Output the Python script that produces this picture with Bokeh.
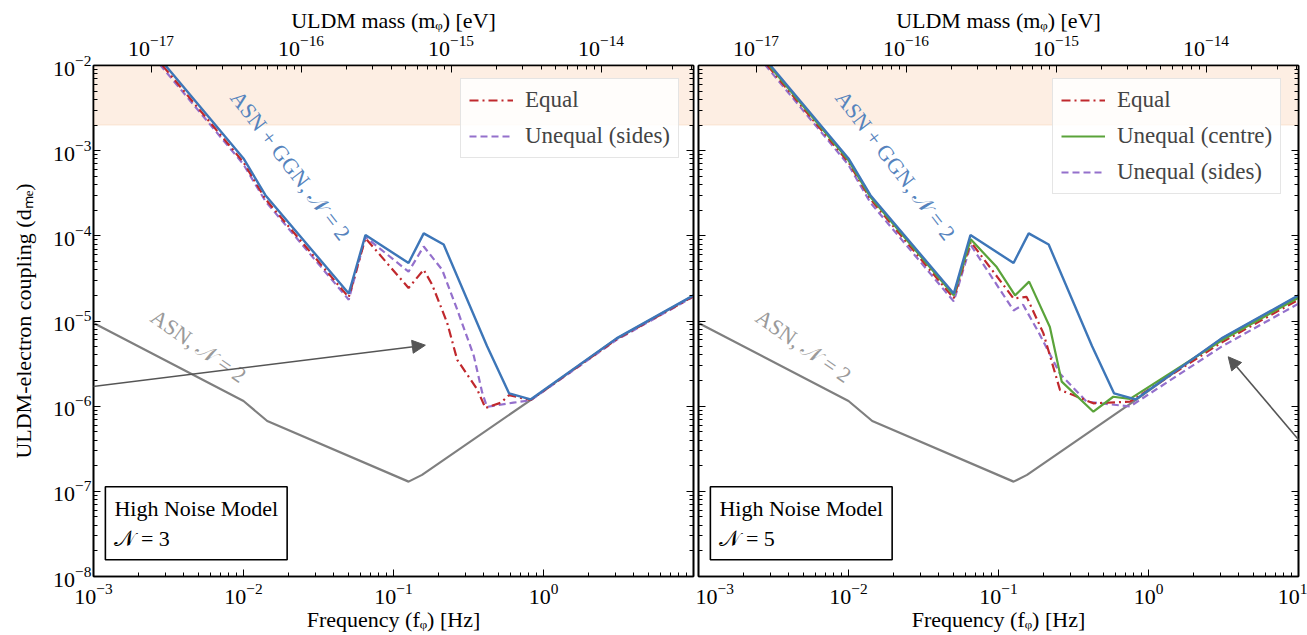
import math
from bokeh.plotting import figure
from bokeh.models import (LogAxis, Range1d, LogScale, FixedTicker, Label, Legend, LegendItem,
                          BoxAnnotation, Arrow, NormalHead, CustomJSTickFormatter)
from bokeh.layouts import row
from bokeh.embed import file_html
from bokeh.resources import INLINE

# ---------------- data ----------------
H_EV_S = 4.135667696e-15  # eV per Hz (m = h f)

freq_ticks = [1e-3, 1e-2, 1e-1, 1.0, 10.0]
coupling_ticks = [1e-8, 1e-7, 1e-6, 1e-5, 1e-4, 1e-3, 1e-2]
mass_ticks = [1e-17, 1e-16, 1e-15, 1e-14]

band_low = 2.0e-3
band_high = 1.0e-2

# ASN + GGN, N = 2 (reference, both panels)
ref_f = [0.0020, 0.0031, 0.0100, 0.0140, 0.0503, 0.0650, 0.126, 0.159, 0.216, 0.42, 0.59, 0.82, 3.07, 10.0]
ref_d = [2.4e-2, 9.5e-3, 8.1e-4, 3.0e-4, 2.1e-5, 1.02e-4, 4.8e-5, 1.07e-4, 7.9e-5, 5.1e-6, 1.41e-6, 1.2e-6, 6.25e-6, 2.0e-5]

# ASN, N = 2
asn_f = [0.001, 0.01, 0.0144, 0.126, 0.155, 0.82, 3.07, 10.0]
asn_d = [9.5e-6, 1.15e-6, 6.7e-7, 1.3e-7, 1.56e-7, 1.18e-6, 6.2e-6, 1.98e-5]

# N = 3 panel
n3_equal_f = [0.002, 0.0031, 0.01, 0.014, 0.0503, 0.065, 0.126, 0.159, 0.181, 0.228, 0.266, 0.361, 0.41, 0.52, 0.59, 0.82, 3.07, 10.0]
n3_equal_d = [2.2e-2, 8.6e-3, 7.3e-4, 2.7e-4, 1.9e-5, 9.4e-5, 2.44e-5, 4.0e-5, 2.67e-5, 9.5e-6, 3.5e-6, 1.58e-6, 9.5e-7, 1.1e-6, 1.35e-6, 1.18e-6, 6.1e-6, 1.95e-5]
n3_sides_f = [0.002, 0.0031, 0.01, 0.014, 0.0503, 0.065, 0.126, 0.159, 0.211, 0.266, 0.343, 0.39, 0.42, 0.63, 0.82, 3.07, 10.0]
n3_sides_d = [2.05e-2, 8.1e-3, 6.9e-4, 2.55e-4, 1.78e-5, 9.7e-5, 3.8e-5, 7.5e-5, 4.0e-5, 1.36e-5, 3.9e-6, 1.45e-6, 9.8e-7, 1.1e-6, 1.17e-6, 6.0e-6, 1.93e-5]

# N = 5 panel
n5_equal_f = [0.002, 0.0031, 0.01, 0.014, 0.0503, 0.0653, 0.126, 0.154, 0.199, 0.257, 0.315, 0.429, 0.753, 3.07, 10.0]
n5_equal_d = [2.2e-2, 8.6e-3, 7.3e-4, 2.7e-4, 1.85e-5, 8.5e-5, 1.84e-5, 1.92e-5, 7.2e-6, 1.55e-6, 1.35e-6, 1.08e-6, 1.13e-6, 5.6e-6, 1.78e-5]
n5_centre_f = [0.002, 0.0031, 0.01, 0.014, 0.0503, 0.0653, 0.0973, 0.129, 0.160, 0.220, 0.264, 0.429, 0.582, 0.753, 3.07, 10.0]
n5_centre_d = [2.3e-2, 9.1e-3, 7.7e-4, 2.85e-4, 2.0e-5, 9.1e-5, 4.3e-5, 2.0e-5, 2.9e-5, 8.5e-6, 1.94e-6, 8.6e-7, 1.29e-6, 1.22e-6, 5.9e-6, 1.88e-5]
n5_sides_f = [0.002, 0.0031, 0.01, 0.014, 0.0503, 0.0653, 0.126, 0.146, 0.184, 0.257, 0.387, 0.753, 3.07, 10.0]
n5_sides_d = [2.05e-2, 8.1e-3, 6.8e-4, 2.45e-4, 1.7e-5, 7.8e-5, 1.33e-5, 1.55e-5, 7.5e-6, 2.4e-6, 1.13e-6, 9.9e-7, 5.0e-6, 1.6e-5]

# ---------------- style ----------------
FONT = "Liberation Serif"
C_BLUE = "#3d76b8"
C_RED = "#c0282d"
C_PURPLE = "#9470cc"
C_GREEN = "#5aa33a"
C_GRAY = "#7f7f7f"


def minor_for(ticks):
    out = []
    for t in ticks[:-1]:
        out += [t * k for k in range(2, 10)]
    return out


def style_axis(ax, labels):
    ax.major_tick_in = 7
    ax.major_tick_out = 0
    ax.minor_tick_in = 4
    ax.minor_tick_out = 0
    ax.axis_line_width = 1.6
    ax.axis_line_color = "black"
    ax.major_tick_line_color = "black"
    ax.minor_tick_line_color = "black"
    ax.major_label_text_font = FONT
    ax.major_label_text_color = "black"
    ax.major_label_text_font_size = "22px"
    ax.axis_label_text_font = FONT
    ax.axis_label_text_font_style = "normal"
    ax.axis_label_text_font_size = "22px"
    ax.axis_label_text_color = "black"
    if labels:
        ax.major_label_standoff = 4
    else:
        ax.formatter = CustomJSTickFormatter(code="return ''")
        ax.major_label_standoff = 0


def make_panel(width, mb_left, mb_right, ylabels):
    p = figure(width=width, height=635, x_axis_type="log", y_axis_type="log",
               x_range=Range1d(freq_ticks[0], freq_ticks[-1]),
               y_range=Range1d(coupling_ticks[0], coupling_ticks[-1]),
               output_backend="svg", toolbar_location=None,
               min_border_left=mb_left, min_border_right=mb_right,
               min_border_top=65, min_border_bottom=59)
    p.xgrid.visible = False
    p.ygrid.visible = False
    p.outline_line_color = "black"
    p.outline_line_width = 1.6
    p.background_fill_color = "white"
    p.border_fill_color = "white"

    xt = FixedTicker(ticks=freq_ticks, minor_ticks=minor_for(freq_ticks))
    yt = FixedTicker(ticks=coupling_ticks, minor_ticks=minor_for(coupling_ticks))
    bx = p.below[0]
    bx.ticker = xt
    bx.axis_label = "Frequency (fᵩ) [Hz]"
    style_axis(bx, True)
    bx.major_label_standoff = 7
    bx.axis_label_standoff = 0
    ly = p.left[0]
    ly.ticker = yt
    style_axis(ly, ylabels)
    if ylabels:
        ly.axis_label = "ULDM-electron coupling (dₘₑ)"
        ly.major_label_standoff = 2
        ly.axis_label_standoff = 14

    ry = LogAxis(ticker=FixedTicker(ticks=coupling_ticks, minor_ticks=minor_for(coupling_ticks)))
    style_axis(ry, False)
    p.add_layout(ry, "right")

    p.extra_x_ranges = {"mass": Range1d(H_EV_S * freq_ticks[0], H_EV_S * freq_ticks[-1])}
    p.extra_x_scales = {"mass": LogScale()}
    top = LogAxis(x_range_name="mass", axis_label="ULDM mass (mᵩ) [eV]",
                  ticker=FixedTicker(ticks=mass_ticks, minor_ticks=minor_for(mass_ticks + [1e-13])))
    style_axis(top, True)
    top.major_label_standoff = 10
    top.axis_label_standoff = 0
    p.add_layout(top, "above")

    band = BoxAnnotation(bottom=band_low, top=band_high, fill_color="#fdeee3", fill_alpha=1.0,
                         line_color="#f8d2b2", line_width=1.5, level="underlay")
    p.add_layout(band)
    return p


def add_texts(p, n_label):
    p.add_layout(Label(x=0.02057, y=6.73e-4, text="ASN + GGN, 𝒩 = 2", angle=-52.5,
                       angle_units="deg", text_align="center", text_baseline="middle",
                       text_font=FONT, text_font_size="22px", text_color="#5583bd"))
    p.add_layout(Label(x=5.01e-3, y=5.08e-6, text="ASN, 𝒩 = 2", angle=-35,
                       angle_units="deg", text_align="center", text_baseline="middle",
                       text_font=FONT, text_font_size="22px", text_color="#9a9a9a"))
    p.add_layout(Label(x=1.2e-3, y=1.57e-8, text="High Noise Model\n" + n_label,
                       text_align="left", text_baseline="bottom", padding=9,
                       border_line_color="black", border_line_width=1.6,
                       background_fill_color="white",
                       text_font=FONT, text_font_size="22px", text_color="black"))


def style_legend(leg):
    leg.label_text_font = FONT
    leg.label_text_font_size = "23px"
    leg.border_line_color = "#cccccc"
    leg.border_line_width = 1
    leg.background_fill_alpha = 0.85
    leg.padding = 8
    leg.spacing = 10
    leg.glyph_width = 44
    leg.glyph_height = 26
    leg.label_height = 26
    leg.label_standoff = 12
    leg.margin = 0


# ---------- left panel (N = 3) ----------
p1 = make_panel(695, 93, 2, True)
p1.below[0].major_label_overrides = {10: ""}
p1.line(asn_f, asn_d, line_color=C_GRAY, line_width=2.2)
r1p = p1.line(n3_sides_f, n3_sides_d, line_color=C_PURPLE, line_width=2.2, line_dash="7 4")
r1r = p1.line(n3_equal_f, n3_equal_d, line_color=C_RED, line_width=2.2, line_dash="9 4 2 4")
p1.line(ref_f, ref_d, line_color=C_BLUE, line_width=2.4)
add_texts(p1, "𝒩 = 3")
leg1 = Legend(items=[LegendItem(label="Equal", renderers=[r1r]),
                     LegendItem(label="Unequal (sides)", renderers=[r1p])],
              location=(367, 418))
style_legend(leg1)
p1.add_layout(leg1)
p1.add_layout(Arrow(end=NormalHead(size=13, fill_color="#555555", line_color="#555555"),
                    x_start=2.71e-4, y_start=1.28e-6, x_end=0.163, y_end=5.2e-6,
                    line_color="#555555", line_width=1.6))

# ---------- right panel (N = 5) ----------
p2 = make_panel(612, 3, 9, False)
p2.line(asn_f, asn_d, line_color=C_GRAY, line_width=2.2)
r2p = p2.line(n5_sides_f, n5_sides_d, line_color=C_PURPLE, line_width=2.2, line_dash="7 4")
r2r = p2.line(n5_equal_f, n5_equal_d, line_color=C_RED, line_width=2.2, line_dash="9 4 2 4")
r2g = p2.line(n5_centre_f, n5_centre_d, line_color=C_GREEN, line_width=2.2)
p2.line(ref_f, ref_d, line_color=C_BLUE, line_width=2.4)
add_texts(p2, "𝒩 = 5")
leg2 = Legend(items=[LegendItem(label="Equal", renderers=[r2r]),
                     LegendItem(label="Unequal (centre)", renderers=[r2g]),
                     LegendItem(label="Unequal (sides)", renderers=[r2p])],
              location=(354, 382))
style_legend(leg2)
p2.add_layout(leg2)
p2.add_layout(Arrow(end=NormalHead(size=13, fill_color="#555555", line_color="#555555"),
                    x_start=10.15, y_start=3.93e-7, x_end=3.40, y_end=3.8e-6,
                    line_color="#555555", line_width=1.6))

layout = row(p1, p2)
open("out.html", "w").write(file_html(layout, INLINE))
